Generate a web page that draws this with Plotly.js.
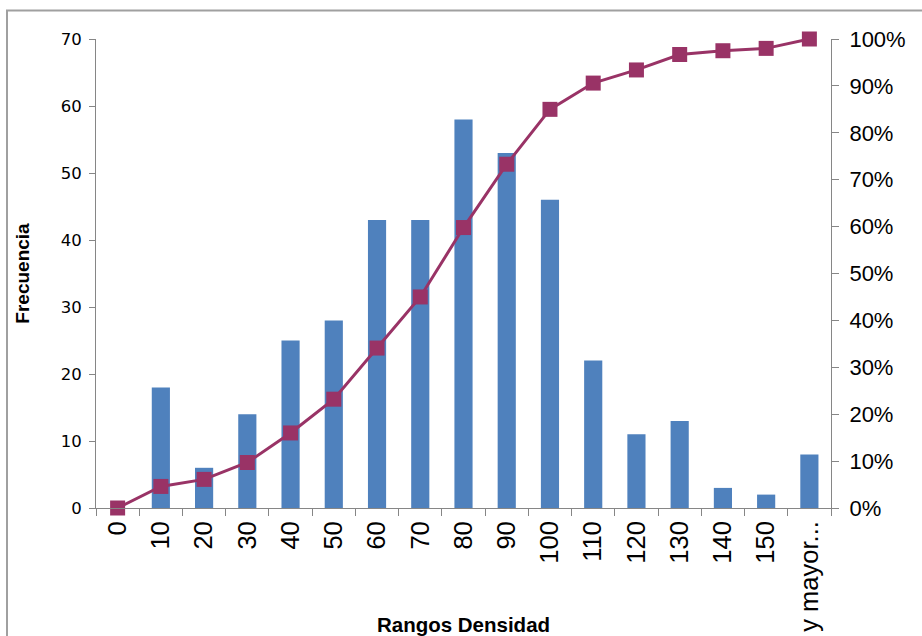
<!DOCTYPE html>
<html>
<head>
<meta charset="utf-8">
<script src="https://cdn.plot.ly/plotly-3.0.1.min.js"></script>
<style>
  html, body { margin: 0; padding: 0; background: #fff; overflow: hidden; }
  #chart { width: 922px; height: 636px; }
</style>
</head>
<body>
<div id="chart"></div>
<script>
// Density ranges (class upper limits) and their counts
const rangos = ['0', '10', '20', '30', '40', '50', '60', '70', '80', '90', '100',
                '110', '120', '130', '140', '150', 'y mayor...'];
const frecuencia = [0, 18, 6, 14, 25, 28, 43, 43, 58, 53, 46, 22, 11, 13, 3, 2, 8];
// Cumulative percentage per range
const acumulado = [0, 0.046, 0.061, 0.097, 0.160, 0.232, 0.341, 0.450, 0.598,
                   0.733, 0.850, 0.906, 0.934, 0.967, 0.975, 0.980, 1.0];

const axisGrey = '#868686';

const barras = {
  type: 'bar',
  x: rangos,
  y: frecuencia,
  marker: { color: '#4F81BD' },
  yaxis: 'y',
  hoverinfo: 'x+y'
};

const curva = {
  type: 'scatter',
  mode: 'lines+markers',
  x: rangos,
  y: acumulado,
  yaxis: 'y2',
  line: { color: '#993366', width: 3 },
  marker: { symbol: 'square', size: 15, color: '#993366' },
  cliponaxis: false
};

const layout = {
  width: 922,
  height: 636,
  margin: { l: 96, r: 91, t: 38.5, b: 128, pad: 0 },
  paper_bgcolor: '#ffffff',
  plot_bgcolor: '#ffffff',
  showlegend: false,
  bargap: 0.58,
  xaxis: {
    type: 'category',
    range: [-0.5, 16.5],
    showline: true,
    linecolor: axisGrey,
    linewidth: 1,
    showgrid: false,
    zeroline: false,
    ticks: 'outside',
    tickson: 'boundaries',
    ticklen: 7,
    tickcolor: axisGrey,
    tickangle: -90,
    ticklabelstandoff: 2,
    tickfont: { family: 'Liberation Sans, Arial, sans-serif', size: 25.5, color: '#000' },
    title: {
      text: 'Rangos Densidad',
      font: { family: 'Liberation Sans, Arial, sans-serif', size: 20.5, color: '#000', weight: 'bold' },
      standoff: 10
    },
    automargin: false
  },
  yaxis: {
    range: [0, 70],
    dtick: 10,
    showline: true,
    linecolor: axisGrey,
    linewidth: 1,
    showgrid: false,
    zeroline: false,
    ticks: 'outside',
    ticklen: 6,
    tickcolor: axisGrey,
    ticklabelstandoff: 4,
    tickfont: { family: 'DejaVu Sans, Verdana, sans-serif', size: 16.5, color: '#000' },
    title: {
      text: 'Frecuencia',
      font: { family: 'Liberation Sans, Arial, sans-serif', size: 19, color: '#000', weight: 'bold' },
      standoff: 26
    },
    automargin: false
  },
  yaxis2: {
    overlaying: 'y',
    side: 'right',
    range: [0, 1],
    dtick: 0.1,
    tickformat: '.0%',
    showline: true,
    linecolor: axisGrey,
    linewidth: 1,
    showgrid: false,
    zeroline: false,
    ticks: 'outside',
    ticklen: 7,
    tickcolor: axisGrey,
    ticklabelstandoff: 6,
    tickfont: { family: 'Liberation Sans, Arial, sans-serif', size: 22, color: '#000' },
    automargin: false
  },
  shapes: [{
    // chart-area frame
    type: 'rect',
    xref: 'paper', yref: 'paper',
    x0: (7 - 96) / 735, x1: 1.2,
    y0: -0.4, y1: (508 - 10) / 469.5,
    line: { color: '#a0a0a0', width: 2 },
    fillcolor: 'rgba(0,0,0,0)',
    layer: 'below'
  }]
};

Plotly.newPlot('chart', [barras, curva], layout, { displayModeBar: false, staticPlot: true });
</script>
</body>
</html>
